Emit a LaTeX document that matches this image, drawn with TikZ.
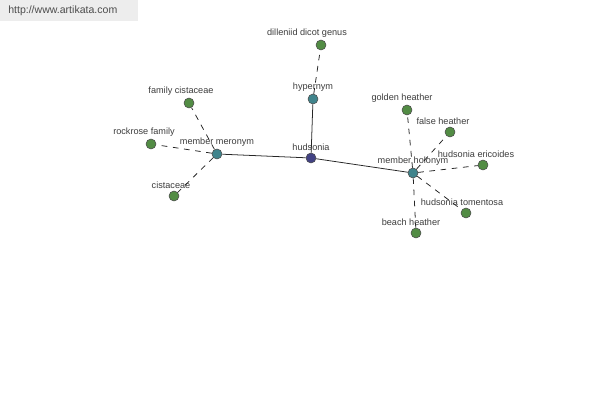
\documentclass[tikz,border=0pt]{standalone}
\usepackage{fontspec}
\setmainfont{Liberation Sans}
\usetikzlibrary{positioning}
\definecolor{leafgreen}{RGB}{82,140,68}
\definecolor{reltea}{RGB}{64,132,140}
\definecolor{rootblue}{RGB}{66,66,132}
\definecolor{labgray}{RGB}{60,60,60}
\tikzset{
  dot/.style={circle, draw=black!70, line width=0.4pt, minimum size=10*0.025cm, inner sep=0pt},
  leaf/.style={dot, fill=leafgreen},
  rel/.style={dot, fill=reltea},
  root/.style={dot, fill=rootblue},
  lab/.style={font=\fontsize{6.5}{7}\selectfont, text=labgray, inner sep=0.5pt},
  every label/.style={lab},
  link/.style={draw=black!85, line width=0.55pt},
  weak/.style={draw=black!85, line width=0.55pt, dash pattern=on 4pt off 4pt},
}

\begin{document}
\begin{tikzpicture}[x=0.025cm, y=-0.025cm, label distance=0.7pt]
    \useasboundingbox (0,0) rectangle (600,400);
    \fill[black!7] (0,0) rectangle (138,21);
    \node[font=\fontsize{7.5}{8}\selectfont, text=black!70, anchor=west, inner sep=0pt] (site) at (8,11) {http://www.artikata.com};

    % centre and relations
    \node[root, label=above:hudsonia] (hud) at (311,158) {};
    \node[rel, label=above:hypernym] (hyp) at (313,99) {};
    \node[rel, label=above:member meronym] (mer) at (217,154) {};
    \node[rel, label=above:member holonym] (hol) at (413,173) {};

    % leaves
    \node[leaf, label={[xshift=-14*0.025cm]above:dilleniid dicot genus}] (dil) at (321,45) {};
    \node[leaf, label={[xshift=-8*0.025cm]above:family cistaceae}] (fam) at (189,103) {};
    \node[leaf, label={[xshift=-7*0.025cm]above:rockrose family}] (roc) at (151,144) {};
    \node[leaf, label={[xshift=-3*0.025cm]above:cistaceae}] (cis) at (174,196) {};
    \node[leaf, label={[xshift=-5*0.025cm]above:golden heather}] (gol) at (407,110) {};
    \node[leaf, label={[xshift=-7*0.025cm]above:false heather}] (fal) at (450,132) {};
    \node[leaf, label={[xshift=-7*0.025cm]above:hudsonia ericoides}] (eri) at (483,165) {};
    \node[leaf, label={[xshift=-4*0.025cm]above:hudsonia tomentosa}] (tom) at (466,213) {};
    \node[leaf, label={[xshift=-5*0.025cm]above:beach heather}] (bea) at (416,233) {};

    \draw[link] (hud) -- (hyp);
    \draw[link] (hud) -- (mer);
    \draw[link] (hud) -- (hol);
    \draw[weak] (hyp) -- (dil);
    \foreach \n in {fam, roc, cis}
      \draw[weak] (mer) -- (\n);
    \foreach \n in {gol, fal, eri, tom, bea}
      \draw[weak] (hol) -- (\n);
\end{tikzpicture}
\end{document}
